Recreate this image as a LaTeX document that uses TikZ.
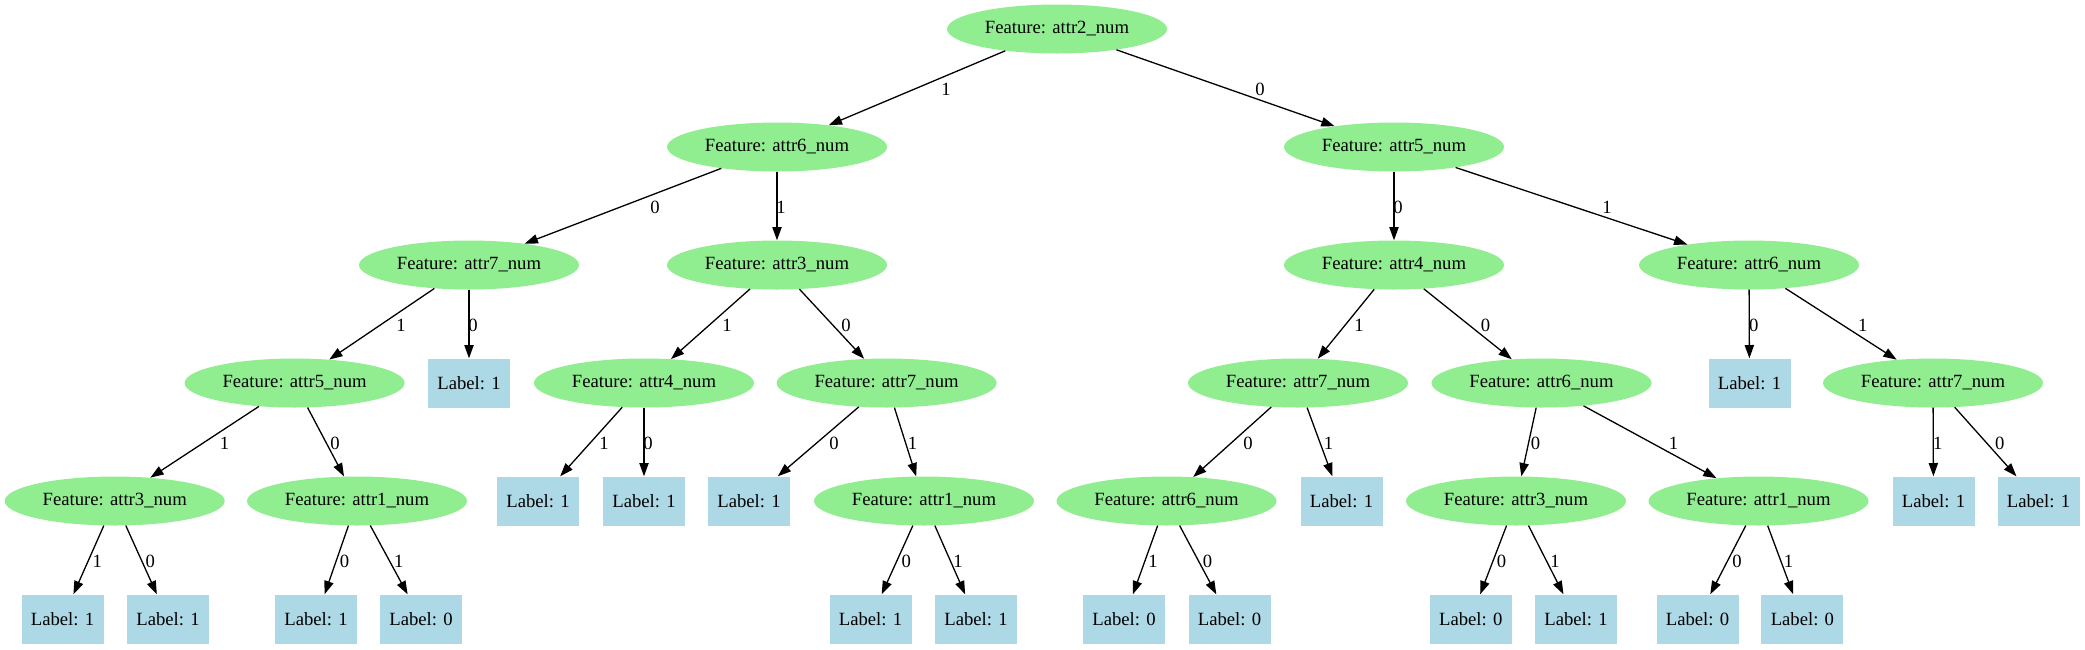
\documentclass[tikz,border=0pt]{standalone}
\usepackage{fontspec}
\setmainfont{Liberation Serif}
\usetikzlibrary{shapes.geometric,arrows.meta}
\definecolor{featgreen}{HTML}{90EE90}
\definecolor{leafblue}{HTML}{ADD8E6}
\begin{document}
\begin{tikzpicture}[x=1pt,y=-1pt,
  feat/.style={ellipse,fill=featgreen,draw=none,minimum width=220pt,minimum height=49pt,inner sep=0pt,font=\fontsize{18.67}{22}\selectfont},
  leaf/.style={rectangle,fill=leafblue,draw=none,minimum width=82pt,minimum height=49pt,inner sep=0pt,font=\fontsize{18.67}{22}\selectfont},
  elab/.style={inner sep=0pt,font=\fontsize{18.67}{22}\selectfont},
  edge/.style={-{Triangle[length=13.3pt,width=9.3pt]},line width=1.3pt,black}]
\useasboundingbox (0,0) rectangle (2085,649);
% level 0
\node[feat] (n0) at (1057,29) {Feature: attr2\_num};
% level 1
\node[feat] (n1) at (777,147) {Feature: attr6\_num};
\node[feat] (n2) at (1394,147) {Feature: attr5\_num};
% level 2
\node[feat] (n3) at (469,265) {Feature: attr7\_num};
\node[feat] (n4) at (777,265) {Feature: attr3\_num};
\node[feat] (n5) at (1394,265) {Feature: attr4\_num};
\node[feat] (n6) at (1749,265) {Feature: attr6\_num};
% level 3
\node[feat] (n7) at (294.6,383) {Feature: attr5\_num};
\node[leaf] (b1) at (469,383) {Label: 1};
\node[feat] (n8) at (644,383) {Feature: attr4\_num};
\node[feat] (n9) at (886.6,383) {Feature: attr7\_num};
\node[feat] (n10) at (1298,383) {Feature: attr7\_num};
\node[feat] (n11) at (1541.5,383) {Feature: attr6\_num};
\node[leaf] (b2) at (1749.5,383) {Label: 1};
\node[feat] (n12) at (1933,383) {Feature: attr7\_num};
% level 4
\node[feat] (n13) at (114.7,501) {Feature: attr3\_num};
\node[feat] (n14) at (357,501) {Feature: attr1\_num};
\node[leaf] (b3) at (538,501) {Label: 1};
\node[leaf] (b4) at (644,501) {Label: 1};
\node[leaf] (b5) at (749,501) {Label: 1};
\node[feat] (n15) at (924,501) {Feature: attr1\_num};
\node[feat] (n16) at (1166.5,501) {Feature: attr6\_num};
\node[leaf] (b6) at (1341.5,501) {Label: 1};
\node[feat] (n17) at (1516,501) {Feature: attr3\_num};
\node[feat] (n18) at (1758.5,501) {Feature: attr1\_num};
\node[leaf] (b7) at (1933.5,501) {Label: 1};
\node[leaf] (b8) at (2038.5,501) {Label: 1};
% level 5
\node[leaf] (b9) at (62.5,619) {Label: 1};
\node[leaf] (b10) at (168,619) {Label: 1};
\node[leaf] (b11) at (316,619) {Label: 1};
\node[leaf] (b12) at (421,619) {Label: 0};
\node[leaf] (b13) at (870.5,619) {Label: 1};
\node[leaf] (b14) at (976,619) {Label: 1};
\node[leaf] (b15) at (1124,619) {Label: 0};
\node[leaf] (b16) at (1229.5,619) {Label: 0};
\node[leaf] (b17) at (1470.7,619) {Label: 0};
\node[leaf] (b18) at (1576,619) {Label: 1};
\node[leaf] (b19) at (1697.5,619) {Label: 0};
\node[leaf] (b20) at (1802.4,619) {Label: 0};
% edges
\draw[edge] (n0) -- (n1); \node[elab] (e1) at (946,89) {1};
\draw[edge] (n0) -- (n2); \node[elab] (e2) at (1260,89) {0};
\draw[edge] (n1) -- (n3); \node[elab] (e3) at (655,207) {0};
\draw[edge] (n1) -- (n4); \node[elab] (e4) at (781,207) {1};
\draw[edge] (n2) -- (n5); \node[elab] (e5) at (1398,207) {0};
\draw[edge] (n2) -- (n6); \node[elab] (e6) at (1607,207) {1};
\draw[edge] (n3) -- (n7); \node[elab] (e7) at (401,325) {1};
\draw[edge] (n3) -- (b1); \node[elab] (e8) at (473,325) {0};
\draw[edge] (n4) -- (n8); \node[elab] (e9) at (727,325) {1};
\draw[edge] (n4) -- (n9); \node[elab] (e10) at (846,325) {0};
\draw[edge] (n5) -- (n10); \node[elab] (e11) at (1359,325) {1};
\draw[edge] (n5) -- (n11); \node[elab] (e12) at (1485.5,325) {0};
\draw[edge] (n6) -- (b2); \node[elab] (e13) at (1753.7,325) {0};
\draw[edge] (n6) -- (n12); \node[elab] (e14) at (1862.7,325) {1};
\draw[edge] (n7) -- (n13); \node[elab] (e15) at (224.6,443) {1};
\draw[edge] (n7) -- (n14); \node[elab] (e16) at (335,443) {0};
\draw[edge] (n8) -- (b3); \node[elab] (e17) at (604,443) {1};
\draw[edge] (n8) -- (b4); \node[elab] (e18) at (648,443) {0};
\draw[edge] (n9) -- (b5); \node[elab] (e19) at (834,443) {0};
\draw[edge] (n9) -- (n15); \node[elab] (e20) at (912.5,443) {1};
\draw[edge] (n10) -- (n16); \node[elab] (e21) at (1248,443) {0};
\draw[edge] (n10) -- (b6); \node[elab] (e22) at (1328.6,443) {1};
\draw[edge] (n11) -- (n17); \node[elab] (e23) at (1535.4,443) {0};
\draw[edge] (n11) -- (n18); \node[elab] (e24) at (1673.4,443) {1};
\draw[edge] (n12) -- (b7); \node[elab] (e25) at (1937.7,443) {1};
\draw[edge] (n12) -- (b8); \node[elab] (e26) at (1999.7,443) {0};
\draw[edge] (n13) -- (b9); \node[elab] (e27) at (97.3,561) {1};
\draw[edge] (n13) -- (b10); \node[elab] (e28) at (150.4,561) {0};
\draw[edge] (n14) -- (b11); \node[elab] (e29) at (344.6,561) {0};
\draw[edge] (n14) -- (b12); \node[elab] (e30) at (398.7,561) {1};
\draw[edge] (n15) -- (b13); \node[elab] (e31) at (906.25,561) {0};
\draw[edge] (n15) -- (b14); \node[elab] (e32) at (958,561) {1};
\draw[edge] (n16) -- (b15); \node[elab] (e33) at (1153,561) {1};
\draw[edge] (n16) -- (b16); \node[elab] (e34) at (1207.6,561) {0};
\draw[edge] (n17) -- (b17); \node[elab] (e35) at (1501.5,561) {0};
\draw[edge] (n17) -- (b18); \node[elab] (e36) at (1555,561) {1};
\draw[edge] (n18) -- (b19); \node[elab] (e37) at (1737,561) {0};
\draw[edge] (n18) -- (b20); \node[elab] (e38) at (1788.6,561) {1};
\end{tikzpicture}
\end{document}
